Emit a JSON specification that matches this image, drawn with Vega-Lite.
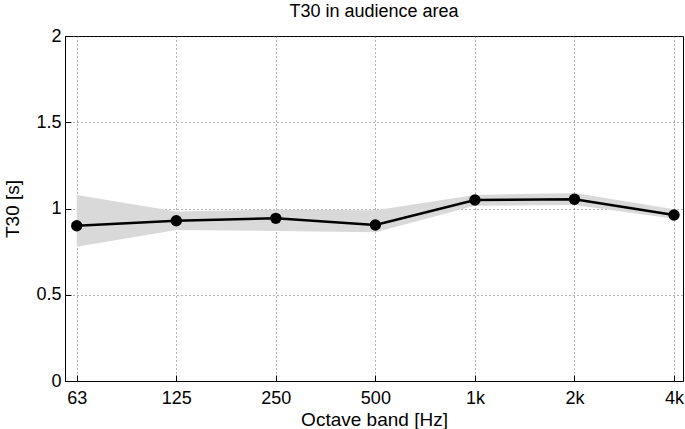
{
  "$schema": "https://vega.github.io/schema/vega-lite/v6.json",
  "autosize": "none",
  "width": 618,
  "height": 345,
  "padding": {"left": 65, "top": 36, "right": 2, "bottom": 48},
  "background": "white",
  "title": {"text": "T30 in audience area", "fontSize": 18, "fontWeight": "normal", "font": "Liberation Sans", "color": "black", "offset": 6, "anchor": "middle"},
  "config": {
    "view": {"stroke": "black", "strokeWidth": 1},
    "axis": {
      "labelFont": "Liberation Sans", "titleFont": "Liberation Sans",
      "labelFontSize": 18, "titleFontSize": 19, "titleFontWeight": "normal",
      "labelColor": "black", "titleColor": "black",
      "domainColor": "black", "tickColor": "black",
      "gridColor": "#444444", "gridDash": [1, 3], "gridWidth": 1, "gridOpacity": 0.8
    }
  },
  "data": {
    "values": [
      {"freq": 62.5, "t30": 0.90, "lo": 0.778, "hi": 1.078},
      {"freq": 125, "t30": 0.929, "lo": 0.875, "hi": 0.983},
      {"freq": 250, "t30": 0.943, "lo": 0.87, "hi": 0.993},
      {"freq": 500, "t30": 0.904, "lo": 0.862, "hi": 0.99},
      {"freq": 1000, "t30": 1.049, "lo": 1.016, "hi": 1.078},
      {"freq": 2000, "t30": 1.054, "lo": 1.02, "hi": 1.09},
      {"freq": 4000, "t30": 0.962, "lo": 0.94, "hi": 0.996}
    ]
  },
  "encoding": {
    "x": {
      "field": "freq", "type": "quantitative",
      "scale": {"type": "log", "domain": [57.6, 4258], "nice": false},
      "axis": {
        "values": [62.5, 125, 250, 500, 1000, 2000, 4000],
        "labelExpr": "datum.value < 100 ? '63' : (datum.value >= 1000 ? (datum.value / 1000) + 'k' : datum.value + '')",
        "title": "Octave band [Hz]", "tickSize": -6, "labelPadding": 14, "titlePadding": 3,
        "labelFlush": false, "labelOverlap": false
      }
    }
  },
  "layer": [
    {
      "mark": {"type": "area", "color": "#d9d9d9", "opacity": 1},
      "encoding": {
        "y": {"field": "lo", "type": "quantitative"},
        "y2": {"field": "hi"}
      }
    },
    {
      "mark": {"type": "line", "color": "black", "strokeWidth": 2.5},
      "encoding": {
        "y": {
          "field": "t30", "type": "quantitative",
          "scale": {"domain": [0, 2], "nice": false},
          "axis": {
            "values": [0, 0.5, 1, 1.5, 2], "format": "~g",
            "title": "T30 [s]", "tickSize": -6, "labelPadding": 10, "titlePadding": 13
          }
        }
      }
    },
    {
      "mark": {"type": "point", "filled": true, "color": "black", "opacity": 1, "size": 130},
      "encoding": {
        "y": {"field": "t30", "type": "quantitative"}
      }
    }
  ]
}
